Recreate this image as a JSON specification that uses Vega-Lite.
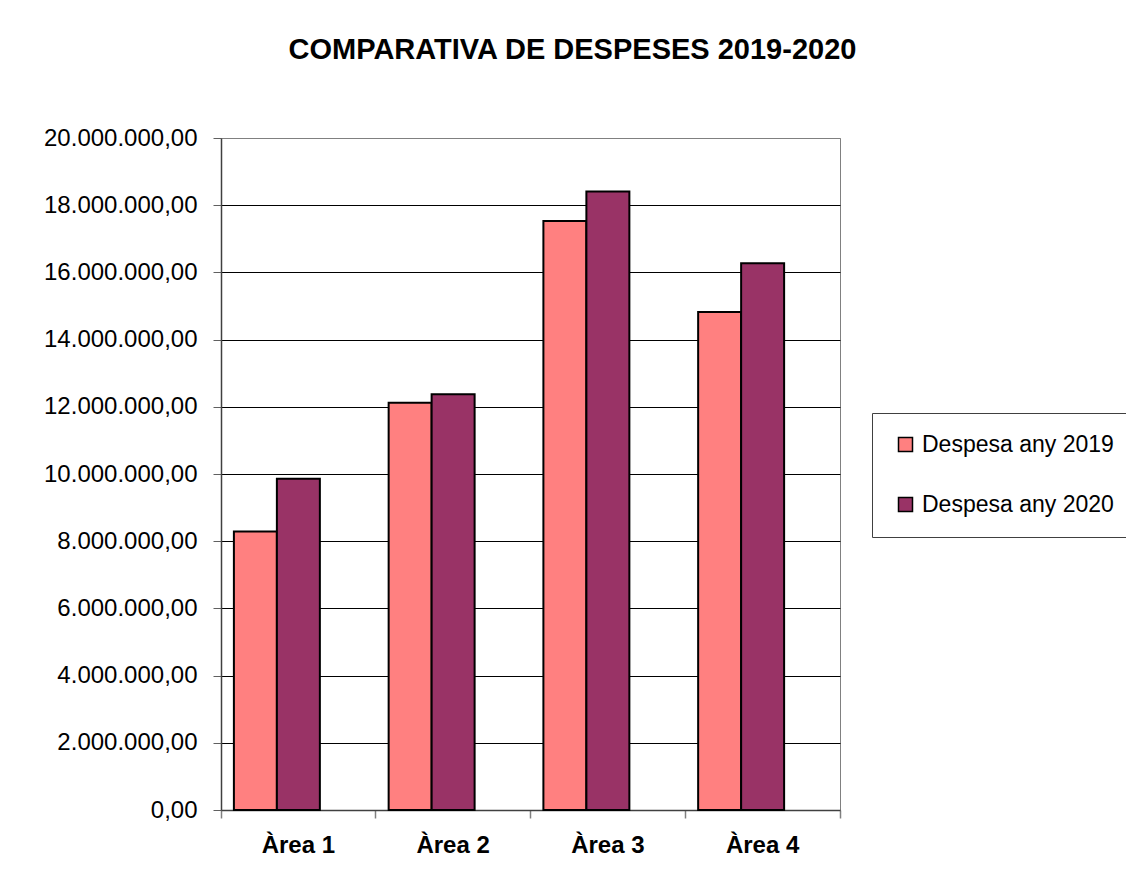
{
  "$schema": "https://vega.github.io/schema/vega-lite/v6.json",
  "width": 619,
  "height": 672,
  "autosize": {"type": "none"},
  "padding": {"left": 221, "top": 138, "right": 286, "bottom": 78},
  "background": "white",
  "config": {
    "locale": {"number": {"decimal": ",", "thousands": ".", "grouping": [3], "currency": ["", " €"]}},
    "font": "Liberation Sans",
    "view": {"stroke": "#808080", "strokeWidth": 1}
  },
  "title": {
    "text": "COMPARATIVA DE DESPESES 2019-2020",
    "font": "Liberation Sans",
    "fontSize": 29,
    "fontWeight": "bold",
    "color": "#000",
    "anchor": "middle",
    "frame": "group",
    "dx": 42,
    "offset": 38,
    "baseline": "alphabetic"
  },
  "data": {
    "values": [
      {"area": "Àrea 1", "serie": "Despesa any 2019", "valor": 8290000},
      {"area": "Àrea 1", "serie": "Despesa any 2020", "valor": 9860000},
      {"area": "Àrea 2", "serie": "Despesa any 2019", "valor": 12120000},
      {"area": "Àrea 2", "serie": "Despesa any 2020", "valor": 12370000},
      {"area": "Àrea 3", "serie": "Despesa any 2019", "valor": 17530000},
      {"area": "Àrea 3", "serie": "Despesa any 2020", "valor": 18410000},
      {"area": "Àrea 4", "serie": "Despesa any 2019", "valor": 14820000},
      {"area": "Àrea 4", "serie": "Despesa any 2020", "valor": 16270000}
    ]
  },
  "mark": {"type": "bar", "stroke": "#000", "strokeWidth": 2},
  "encoding": {
    "x": {
      "field": "area",
      "type": "nominal",
      "scale": {"paddingInner": 0, "paddingOuter": 0},
      "axis": {
        "title": null,
        "labelAngle": 0,
        "labelFont": "Liberation Sans",
        "labelFontSize": 24,
        "labelFontWeight": "bold",
        "labelColor": "#000",
        "labelPadding": 15,
        "labelBaseline": "top",
        "bandPosition": 1,
        "tickExtra": true,
        "tickSize": 8,
        "tickColor": "#808080",
        "tickWidth": 1.5,
        "domainColor": "#404040",
        "domainWidth": 1.5,
        "grid": false
      }
    },
    "xOffset": {
      "field": "serie",
      "type": "nominal",
      "scale": {"domain": ["Despesa any 2019", "Despesa any 2020", "buit"], "paddingInner": 0, "paddingOuter": 0.3}
    },
    "y": {
      "field": "valor",
      "type": "quantitative",
      "scale": {"domain": [0, 20000000], "nice": false},
      "axis": {
        "title": null,
        "values": [0, 2000000, 4000000, 6000000, 8000000, 10000000, 12000000, 14000000, 16000000, 18000000, 20000000],
        "format": ",.2f",
        "labelFont": "Liberation Sans",
        "labelFontSize": 24,
        "labelColor": "#000",
        "labelPadding": 16,
        "tickSize": 8,
        "tickColor": "#606060",
        "domainColor": "#404040",
        "domainWidth": 1.5,
        "grid": true,
        "gridColor": {"condition": {"test": "datum.value >= 20000000 || datum.value <= 0", "value": "#808080"}, "value": "#000"},
        "gridWidth": 1,
        "gridOpacity": 1
      }
    },
    "color": {
      "field": "serie",
      "type": "nominal",
      "scale": {"domain": ["Despesa any 2019", "Despesa any 2020"], "range": ["#FF8080", "#993366"]},
      "legend": {
        "title": null,
        "orient": "none",
        "legendX": 651,
        "legendY": 275,
        "padding": 20,
        "symbolOffset": 2,
        "symbolType": "square",
        "symbolSize": 196,
        "symbolStrokeColor": "#000",
        "symbolStrokeWidth": 1.5,
        "labelFont": "Liberation Sans",
        "labelFontSize": 23,
        "labelColor": "#000",
        "labelOffset": 5,
        "labelLimit": 400,
        "rowPadding": 36,
        "strokeColor": "#404040",
        "fillColor": "#fff"
      }
    }
  }
}
